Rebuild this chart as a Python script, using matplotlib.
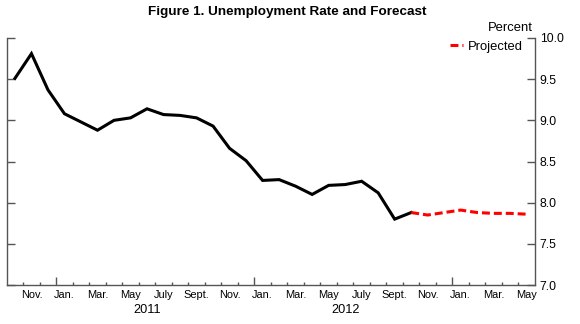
import matplotlib
matplotlib.use("Agg")
import matplotlib.pyplot as plt
import matplotlib.transforms as mtransforms
import numpy as np

plt.rcParams['font.family'] = ['Liberation Sans', 'DejaVu Sans']

# monthly data, Oct 2010 .. Oct 2012 (actual), Oct 2012 .. May 2013 (projected)
actual = [9.51, 9.81, 9.37, 9.08, 8.98, 8.88, 9.00, 9.03, 9.14, 9.07, 9.06, 9.03,
          8.93, 8.66, 8.51, 8.27, 8.28, 8.20, 8.10, 8.21, 8.22, 8.26, 8.12, 7.80, 7.88]
projected = [7.88, 7.85, 7.88, 7.91, 7.88, 7.87, 7.87, 7.86]
month_names = ['Jan.', 'Feb.', 'Mar.', 'Apr.', 'May', 'June', 'July', 'Aug.', 'Sept.',
               'Oct.', 'Nov.', 'Dec.']
first_month = 9   # Oct (0-based)
n_months = 32
years = ['2011', '2012']
y_ticks = [7.0, 7.5, 8.0, 8.5, 9.0, 9.5, 10.0]

fig = plt.figure(figsize=(5.8, 3.24), dpi=100)
ax = fig.add_axes([6.7 / 580, 1 - 285 / 324, (535 - 6.7) / 580, 247 / 324])

x_act = np.arange(len(actual))
x_proj = np.arange(len(actual) - 1, len(actual) - 1 + len(projected))
ax.plot(x_act, actual, color='black', lw=2.2, solid_joinstyle='miter')
ax.plot(x_proj, projected, color='#ff0000', lw=2.2, dashes=(2.6, 1.3),
        label='Projected')

ax.set_xlim(-0.5, n_months - 0.5)
ax.set_ylim(7.0, 10.0)

gray = '#555555'
for s in ['left', 'right', 'bottom']:
    ax.spines[s].set_color(gray)
    ax.spines[s].set_linewidth(1.0)
ax.spines['top'].set_visible(False)

# y axis on the right, ticks inward on both sides
ax.yaxis.tick_right()
ax.set_yticks(y_ticks)
ax.set_yticklabels([f"{v:.1f}" for v in y_ticks])
ax.tick_params(axis='y', which='both', direction='in', length=5.5, width=1.0,
               color=gray, left=True, right=True, labelleft=False, labelright=True,
               labelsize=8.8, pad=3.5)

# x axis: month boundaries as ticks, labels at month centres
bounds = np.arange(0.5, n_months - 0.5, 1.0)
jan_bounds = [b for b in bounds if (first_month + int(b + 0.5)) % 12 == 0]
other_bounds = [b for b in bounds if b not in jan_bounds]
ax.set_xticks(jan_bounds)
ax.set_xticklabels([])
ax.set_xticks(other_bounds, minor=True)
ax.tick_params(axis='x', which='major', direction='in', length=6, width=1.0, color=gray)
ax.tick_params(axis='x', which='minor', direction='in', length=2.5, width=1.0, color=gray)

trans = mtransforms.blended_transform_factory(ax.transData, ax.transAxes)
for i in range(1, n_months, 2):
    name = month_names[(first_month + i) % 12]
    ax.text(i, -0.04, name, transform=trans, ha='center', va='center', fontsize=7.9)

for k, yr in enumerate(years):
    jun_idx = (12 - first_month) + 12 * k + 5
    ax.text(jun_idx, -0.10, yr, transform=trans, ha='center', va='center', fontsize=9.2)

fig.text(287 / 580, 1 - 12 / 324, 'Figure 1. Unemployment Rate and Forecast',
         ha='center', va='center', fontsize=9.7, fontweight='bold')
fig.text(533 / 580, 1 - 28 / 324, 'Percent', ha='right', va='center', fontsize=9.4)

ax.legend(loc='upper right', bbox_to_anchor=(0.977, 0.99), frameon=False,
          fontsize=9.4, handlelength=1.0, handletextpad=0.4, borderpad=0,
          borderaxespad=0)

fig.savefig('out.png', dpi=100)
